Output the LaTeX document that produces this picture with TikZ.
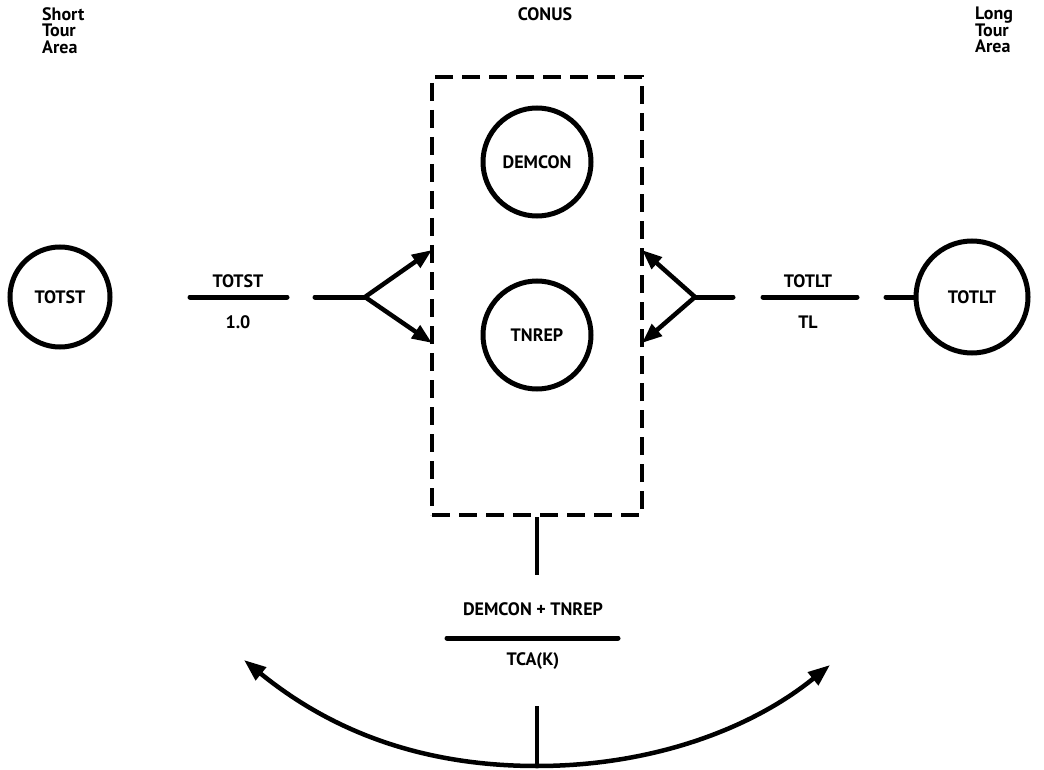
\documentclass[tikz,border=0pt]{standalone}
\usepackage{fontspec}
\setmainfont{PT Sans}[BoldFont={PT Sans Bold}]
\usetikzlibrary{arrows.meta}
\begin{document}
\begin{tikzpicture}[x=1pt,y=-1pt,
  lbl/.style={font=\fontsize{18}{16.5}\selectfont\bfseries, inner sep=0pt},
  ring/.style={circle, draw, line width=5pt, inner sep=0pt},
  thick line/.style={line width=5pt, line cap=round},
  arr/.style={line width=4.5pt, -{Triangle[length=20pt,width=15pt]}},
  dbox/.style={draw, line width=4pt, dash pattern=on 18pt off 9pt, inner sep=0pt}]
\useasboundingbox[fill=white] (0,0) rectangle (1044,770);

% headings
\node[lbl, align=left, anchor=north west] (st) at (42,7) {Short\\Tour\\Area};
\node[lbl, anchor=north] (conus) at (545,7) {CONUS};
\node[lbl, align=left, anchor=north west] (lt) at (975,7) {Long\\Tour\\Area};

% CONUS box and circles
\node[dbox, minimum width=210pt, minimum height=438pt] (box) at (537,296) {};
\node[ring, minimum size=108pt, lbl] (dem) at (537,162) {DEMCON};
\node[ring, minimum size=108pt, lbl] (tnr) at (537,335) {TNREP};

% outer circles
\node[ring, minimum size=100pt, lbl] (totst) at (60,297) {TOTST};
\node[ring, minimum size=112pt, lbl] (totlt) at (972,297) {TOTLT};

% left fraction
\coordinate (f1a) at (190,297);
\coordinate (f1b) at (287,297);
\draw[thick line] (f1a) -- (f1b);
\node[lbl] (f1n) at (238,281) {TOTST};
\node[lbl] (f1d) at (238,322) {1.0};

% left fork
\coordinate (l0) at (315,297);
\coordinate (forkL) at (365,297);
\coordinate (bL1) at (432,250);
\coordinate (bL2) at (432,343);
\draw[thick line] (l0) -- (forkL);
\draw[arr] (forkL) -- (bL1);
\draw[arr] (forkL) -- (bL2);

% right fork
\coordinate (r0) at (733,297);
\coordinate (forkR) at (695,297);
\coordinate (bR1) at (642,250);
\coordinate (bR2) at (642,343);
\draw[thick line] (r0) -- (forkR);
\draw[arr] (forkR) -- (bR1);
\draw[arr] (forkR) -- (bR2);

% right fraction
\coordinate (f2a) at (763,297);
\coordinate (f2b) at (857,297);
\draw[thick line] (f2a) -- (f2b);
\node[lbl] (f2n) at (808,281) {TOTLT};
\node[lbl] (f2d) at (808,322) {TL};

% link to TOTLT circle
\coordinate (r3) at (886,297);
\draw[thick line] (r3) -- (totlt.west);

% bottom
\coordinate (bd) at (537,575);
\draw[line width=4.5pt] (box.south) -- (bd);
\node[lbl] (f3n) at (533,609) {DEMCON + TNREP};
\coordinate (f3a) at (447,638);
\coordinate (f3b) at (618,638);
\draw[thick line] (f3a) -- (f3b);
\node[lbl] (f3d) at (533,661) {TCA(K)};

\coordinate (vt) at (537,706);
\coordinate (vb) at (537,766);
\draw[line width=4.5pt] (vt) -- (vb);
\coordinate (cl) at (244,660);
\coordinate (cr) at (830,665);
\draw[line width=4.5pt, {Triangle[length=22pt,width=16pt]}-{Triangle[length=22pt,width=16pt]}]
  (cl) .. controls (330,730) and (420,766) .. (vb) .. controls (650,766) and (750,730) .. (cr);
\end{tikzpicture}
\end{document}
